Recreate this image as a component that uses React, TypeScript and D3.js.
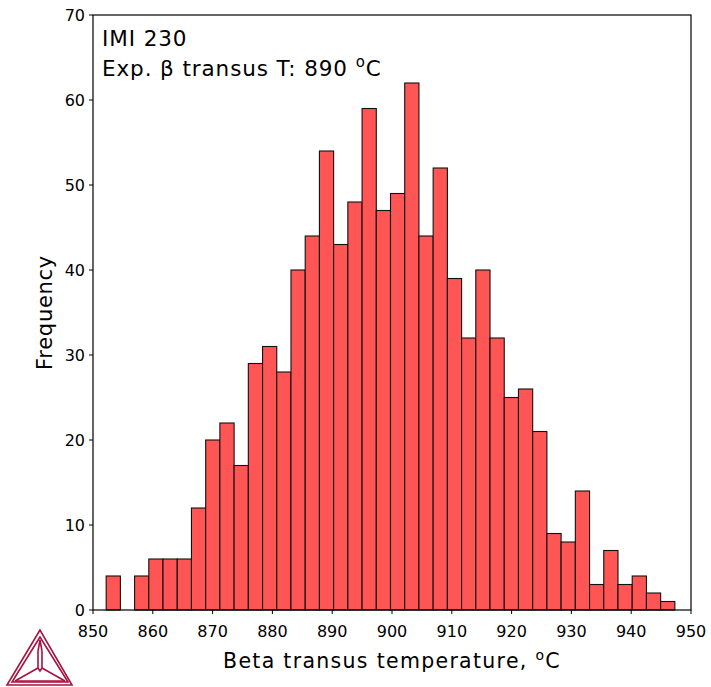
import React from "react";
import * as d3 from "d3";

const counts = [4, 0, 4, 6, 6, 6, 12, 20, 22, 17, 29, 31, 28, 40, 44, 54, 43, 48, 59, 47, 49, 62, 44, 52, 39, 32, 40, 32, 25, 26, 21, 9, 8, 14, 3, 7, 3, 4, 2, 1];
const dataMin = 852.2;
const dataMax = 947.3;
const xTicks = [850, 860, 870, 880, 890, 900, 910, 920, 930, 940, 950];
const yTicks = [0, 10, 20, 30, 40, 50, 60, 70];
const titleLines = ["IMI 230", "Exp. β transus T: 890 "];

const W = 711;
const H = 687;
const M = { left: 93, right: 691, top: 15, bottom: 610 };
const FONT = "'DejaVu Sans', Verdana, sans-serif";

export default function App() {
  const x = d3.scaleLinear().domain([850, 950]).range([M.left, M.right]);
  const y = d3.scaleLinear().domain([0, 70]).range([M.bottom, M.top]);
  const binW = (dataMax - dataMin) / counts.length;
  const bins = counts.map((c, i) => ({ x0: dataMin + i * binW, x1: dataMin + (i + 1) * binW, c }));

  return (
    <svg width={W} height={H} style={{ position: "absolute", left: 0, top: 0 }} fontFamily={FONT}>
      <rect x={0} y={0} width={W} height={H} fill="#fff" />
      {bins.filter(b => b.c > 0).map((b, i) => (
        <rect key={i} x={x(b.x0)} y={y(b.c)} width={x(b.x1) - x(b.x0)} height={y(0) - y(b.c)}
          fill="#FF5555" stroke="#111" strokeWidth={1.1} />
      ))}
      <rect x={M.left} y={M.top} width={M.right - M.left} height={M.bottom - M.top} fill="none" stroke="#000" strokeWidth={1.2} />
      {xTicks.map(t => (
        <g key={t} transform={`translate(${x(t)},${M.bottom})`}>
          <line y1={0} y2={4} stroke="#000" strokeWidth={1} />
          <text y={27} textAnchor="middle" fontSize={16} fill="#000">{t}</text>
        </g>
      ))}
      {yTicks.map(t => (
        <g key={t} transform={`translate(${M.left},${y(t)})`}>
          <line x1={0} x2={-4} stroke="#000" strokeWidth={1} />
          <text x={-8} y={6} textAnchor="end" fontSize={16} fill="#000">{t}</text>
        </g>
      ))}
      <text x={(M.left + M.right) / 2} y={668} textAnchor="middle" fontSize={20.5} letterSpacing={1.3} fill="#000">
        Beta transus temperature, <tspan fontSize={14} dy={-8}>o</tspan><tspan dy={8}>C</tspan>
      </text>
      <text transform={`translate(52,${(M.top + M.bottom) / 2}) rotate(-90)`} textAnchor="middle" fontSize={21} letterSpacing={0.7} fill="#000">
        Frequency
      </text>
      <text x={102} y={46} fontSize={21.5} letterSpacing={0.9} fill="#000">{titleLines[0]}</text>
      <text x={102} y={76} fontSize={21.5} letterSpacing={0.9} fill="#000">
        {titleLines[1]}<tspan fontSize={15} dy={-9}>o</tspan><tspan dy={9}>C</tspan>
      </text>
      <g fill="none" stroke="#A8123E" strokeWidth={1.6} strokeLinejoin="miter">
        <path d="M40,630 L7,685 L72,685 Z" />
        <path d="M40,637 L12,682 L68,682 Z" />
        <path d="M38,651 L38,668 M42,651 L42,668 M38,651 L40,640 L42,651" />
        <path d="M38,668 L15,681 M42,668 L65,681 M38,668 L40,671 L42,668" />
        <path d="M15,681 L65,681" />
      </g>
    </svg>
  );
}
